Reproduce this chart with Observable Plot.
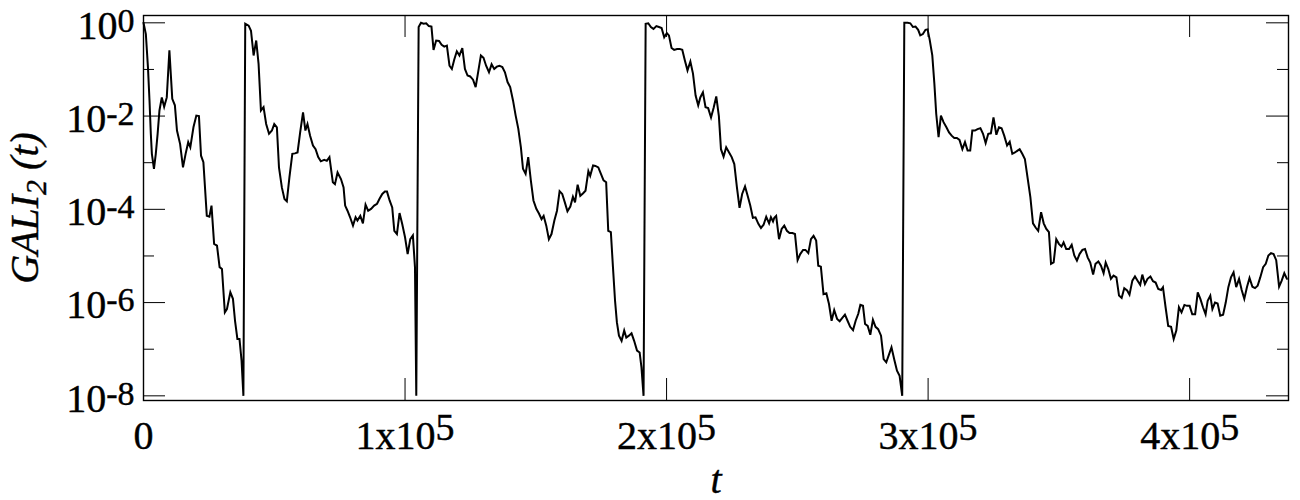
<!DOCTYPE html>
<html>
<head>
<meta charset="utf-8">
<script src="https://cdn.jsdelivr.net/npm/d3@7"></script>
<script src="https://cdn.jsdelivr.net/npm/@observablehq/plot@0.6"></script>
<style>
  html, body { margin: 0; padding: 0; background: #fff; }
  #chart svg { display: block; }
</style>
</head>
<body>
<div id="chart"></div>
<script>
// time t
const tValues = [
  0, 900, 1700, 2300, 2800, 3200, 4000, 4700, 5400, 6100, 7000, 7900, 8900, 9900, 11000, 12000, 12800, 14000, 15100, 16100,
  17100, 17900, 19100, 20200, 21200, 22000, 22900, 24200, 25200, 26000, 27000, 28100, 29100, 30000, 31100, 31900, 33200, 34200, 35000, 35900,
  36700, 37500, 38200,
  38900, 40200, 41100, 42100, 43100, 44000, 44900, 45900, 46900, 48000, 49100, 50000, 51000, 51800, 52900, 53900, 54800, 55800, 56900, 57900,
  58900, 59900, 61000, 61900, 62700, 63700, 64800, 65800, 66800, 67800, 69100, 70100, 71100, 72400, 73200, 74200, 75500, 76500, 77100, 78000,
  79000, 80100, 81100, 81800, 82900, 83900, 84900, 85900, 87000, 88200, 89300, 90200, 91300, 92300, 93100, 94100, 95100, 95900, 96900, 97900,
  98900, 100000, 101000, 102000, 103000, 103800, 104300,
  105200, 106100, 107100, 108100, 109100, 110100, 110900, 111900, 113000, 114000, 115000, 116000, 117000, 117900, 118800, 119800, 120800, 121900,
  122900, 123900, 124900, 126000, 127000, 128000, 129000, 130000, 131000, 132100, 133100, 134100, 135100, 136100, 137200, 138200, 139200, 140200,
  141300, 142300, 143300, 144300, 145100, 146100, 147100, 148100, 149100, 150200, 151200, 152200, 153000, 154000, 155000, 156000, 157100, 158100,
  159100, 160100, 161100, 162100, 163200, 164200, 165000, 166000, 167000, 168000, 169000, 170100, 170800, 171900, 172800, 173900, 174900, 175900,
  176900, 177700, 178700, 179500, 180300, 181000, 181800, 182800, 183800, 184600, 185600, 186600, 187600, 188700, 189700, 190400, 191200,
  192000, 193000, 194000, 195000, 196100, 197100, 198100, 199100, 200100, 200900, 201900, 202900, 204000, 205000, 206000, 207000, 208000, 209100,
  210100, 211100, 212100, 212900, 213900, 214900, 215900, 217000, 218000, 219000, 220000, 220800, 221800, 222800, 223900, 224900, 225900, 226900,
  227900, 228900, 230000, 231000, 232000, 233000, 234000, 235100, 236100, 237100, 238100, 239200, 239900, 240700, 241200, 241900, 243000, 244000,
  245000, 246000, 247000, 248100, 249100, 250100, 251100, 252200, 253100, 254200, 255200, 256200, 257200, 258000, 259000, 260000, 261100, 262100,
  263100, 264100, 265200, 266200, 267200, 268200, 269200, 270200, 271300, 272300, 273300, 274100, 275100, 275900, 276900, 277900, 278900, 279900,
  280900, 282000, 283000, 284000, 285000, 286000, 287100, 288100, 289100, 290100,
  290900, 292200, 293200, 294200, 295200, 296200, 297000, 298000, 299000, 299800, 300600, 301600, 302400, 303100, 304000, 304900, 305900, 307000,
  308000, 309000, 310000, 311000, 312000, 313100, 314100, 315100, 316100, 316900, 317900, 318900, 320000, 321000, 322000, 323000, 324000, 325000,
  326100, 327100, 328100, 329100, 330200, 331200, 332200, 333200, 334200, 335000, 336000, 337000, 338000, 339100, 340100, 341100, 342100, 343200,
  344200, 345200, 346200, 347000, 348000, 349000, 350000, 351000, 351800, 352800, 353900, 354900, 355900, 356900, 357900, 359000, 360000, 361000,
  362000, 363100, 364000, 365100, 366100, 367100, 367900, 368900, 369900, 370900, 372000, 373000, 374000, 375000, 376100, 377000, 378100, 379100,
  380100, 381100, 381900, 382900, 383900, 385000, 386000, 387000, 388000, 389100, 389800, 390800, 391800, 392900, 393900, 394900, 395900, 396900,
  398000, 399000, 400000, 401000, 402100, 403100, 404100, 405100, 406100, 406900, 407900, 408700, 409700, 410700, 411700, 412800, 413800, 414800,
  415800, 416800, 417800, 418900, 419900, 420900, 421900, 422900, 424000, 425000, 426000, 427000, 428100, 429100, 430100, 431100, 432100, 433100,
  434200, 435200, 436200, 437200
];

// log10 of GALI_2(t)
const galiExponent = [
  0, -0.24, -0.95, -1.67, -2.38, -2.81, -3.13, -2.81, -2.38, -1.88, -1.6, -1.8, -1.6, -0.59, -1.63, -1.77, -2.31, -2.6, -3.1, -2.81,
  -2.56, -2.67, -2.24, -1.99, -2.0, -2.85, -2.99, -4.14, -4.16, -3.92, -4.74, -4.78, -5.24, -5.28, -6.21, -6.14, -5.78, -5.92, -6.39, -6.78,
  -6.78, -7.25, -8.0,
  -0.02, -0.06, -0.17, -0.7, -0.38, -0.88, -1.88, -1.81, -2.17, -2.38, -2.31, -2.17, -2.24, -3.1, -3.53, -3.78, -3.83, -3.31, -2.81, -2.8,
  -2.78, -2.35, -1.92, -2.31, -2.17, -2.42, -2.63, -2.71, -2.88, -2.97, -2.94, -2.96, -2.88, -3.42, -3.46, -3.21, -3.35, -3.53, -3.92, -4.03,
  -4.17, -4.35, -4.17, -4.24, -4.14, -4.3, -3.9, -4.03, -3.99, -3.92, -3.88, -3.78, -3.67, -3.62, -3.62, -3.81, -3.96, -4.46, -4.53, -4.08,
  -4.31, -4.6, -4.96, -4.64, -4.56, -5.24, -8.0,
  -0.09, 0, -0.02, -0.01, -0.07, -0.08, -0.58, -0.38, -0.39, -0.47, -0.51, -0.49, -0.92, -0.99, -0.79, -0.61, -0.7, -0.54,
  -0.99, -1.13, -1.15, -1.22, -1.38, -1.04, -0.7, -0.75, -0.92, -1.06, -0.89, -0.99, -0.94, -0.92, -0.95, -1.06, -1.27, -1.38,
  -1.67, -1.99, -2.27, -2.67, -3.13, -3.24, -2.88, -3.38, -3.81, -3.99, -4.09, -4.21, -4.14, -4.35, -4.64, -4.53, -4.24, -4.03,
  -3.61, -3.67, -3.85, -4.04, -3.94, -3.73, -3.85, -3.47, -3.71, -3.66, -3.6, -3.18, -3.28, -3.06, -3.07, -3.1, -3.24, -3.38,
  -3.42, -4.46, -4.49, -5.24, -5.96, -6.42, -6.71, -6.82, -6.6, -6.75, -6.71, -6.66, -6.82, -7.03, -7.07, -7.39, -8.0,
  -0.02, -0.01, -0.09, -0.13, -0.07, -0.09, -0.11, -0.31, -0.22, -0.27, -0.54, -0.58, -0.56, -0.56, -0.58, -0.81, -1.02, -0.83,
  -1.09, -1.56, -1.77, -1.6, -1.49, -1.81, -1.83, -2.03, -1.82, -1.58, -2.0, -2.71, -2.87, -2.67, -2.78, -2.88, -3.03, -3.53,
  -3.97, -3.67, -3.51, -3.71, -3.92, -4.18, -4.17, -4.31, -4.4, -4.33, -4.16, -4.3, -4.17, -4.26, -4.18, -4.14, -4.64, -4.42,
  -4.35, -4.46, -4.51, -4.51, -4.53, -5.09, -4.96, -4.87, -4.87, -4.94, -4.64, -4.57, -4.67, -5.21, -5.23, -5.82, -5.8, -6.03,
  -6.39, -6.16, -6.35, -6.4, -6.33, -6.26, -6.39, -6.52, -6.59, -6.39, -6.24, -6.05, -6.07, -6.46, -6.5, -6.69, -6.37, -6.52,
  -6.57, -6.71, -7.21, -7.28, -7.12, -6.96, -7.23, -7.46, -7.57, -8.0,
  0, 0, -0.01, -0.09, -0.08, -0.15, -0.27, -0.24, -0.15, -0.14, -0.36, -0.7, -1.31, -1.95, -2.45, -1.99, -2.13, -2.24,
  -2.35, -2.42, -2.47, -2.47, -2.51, -2.71, -2.56, -2.74, -2.74, -2.31, -2.31, -2.28, -2.26, -2.38, -2.58, -2.38, -2.37, -2.03,
  -2.4, -2.24, -2.26, -2.42, -2.63, -2.55, -2.81, -2.78, -2.74, -2.71, -2.81, -2.92, -3.31, -3.74, -4.3, -4.39, -4.46, -4.06,
  -4.3, -4.42, -4.49, -5.17, -5.14, -4.64, -4.74, -4.8, -4.71, -4.85, -4.85, -4.76, -4.99, -5.1, -4.96, -4.87, -4.85, -5.03,
  -5.14, -5.4, -5.17, -5.12, -5.21, -5.37, -5.14, -5.28, -5.49, -5.42, -5.46, -5.85, -5.9, -5.69, -5.74, -5.83, -5.53, -5.44,
  -5.53, -5.62, -5.4, -5.6, -5.49, -5.44, -5.54, -5.57, -5.71, -5.73, -5.67, -6.1, -6.5, -6.52, -6.78, -6.6, -6.1, -6.21,
  -6.05, -6.07, -6.07, -6.25, -6.25, -5.78, -5.92, -6.1, -6.25, -5.96, -5.85, -6.14, -6.0, -6.02, -6.28, -6.26, -6.0, -5.67,
  -5.46, -5.35, -5.67, -5.49, -5.73, -5.92, -5.67, -5.47, -5.66, -5.69, -5.64, -5.46, -5.24, -5.17, -4.99, -4.94, -4.96, -5.09,
  -5.66, -5.53, -5.37, -5.49
];

const xTicks = [0, 100000, 200000, 300000, 400000];
const yMajorTicks = [1, 1e-2, 1e-4, 1e-6, 1e-8];
const yMinorTicks = [1e-1, 1e-3, 1e-5, 1e-7];

const data = tValues.map((t, i) => ({t, gali: Math.pow(10, galiExponent[i])}));

const W = 1300, H = 500;
const mL = 143, mR = 12, mT = 15, mB = 100;
const plotW = W - mL - mR, plotH = H - mT - mB;
const major = 22, minor = 11;
const FONT = "'Liberation Serif', 'Times New Roman', serif";

const chart = Plot.plot({
  width: W,
  height: H,
  marginLeft: mL,
  marginRight: mR,
  marginTop: mT,
  marginBottom: mB,
  style: {fontFamily: FONT, fontSize: "40px", background: "#fff", color: "#000", overflow: "visible"},
  x: {domain: [0, 437800]},
  y: {type: "log", domain: [Math.pow(10, -8.1), Math.pow(10, 0.157)]},
  marks: [
    // inward ticks: left/right on y, bottom/top on x
    Plot.tickY(yMajorTicks, {y: d => d, insetRight: plotW - major, stroke: "#000", strokeWidth: 1}),
    Plot.tickY(yMajorTicks, {y: d => d, insetLeft: plotW - major, stroke: "#000", strokeWidth: 1}),
    Plot.tickY(yMinorTicks, {y: d => d, insetRight: plotW - minor, stroke: "#000", strokeWidth: 1}),
    Plot.tickY(yMinorTicks, {y: d => d, insetLeft: plotW - minor, stroke: "#000", strokeWidth: 1}),
    Plot.tickX(xTicks, {x: d => d, insetTop: plotH - major, stroke: "#000", strokeWidth: 1}),
    Plot.tickX(xTicks, {x: d => d, insetBottom: plotH - major, stroke: "#000", strokeWidth: 1}),
    Plot.line(data, {x: "t", y: "gali", stroke: "#000", strokeWidth: 2, strokeLinejoin: "miter", strokeMiterlimit: 4}),
    Plot.frame({stroke: "#000", strokeWidth: 1.4}),
    Plot.axisY(yMajorTicks, {
      anchor: "left", tickSize: 0, tickPadding: 9, label: null, fontSize: 40, dy: 3,
      tickFormat: d => "10^" + Math.round(Math.log10(d))
    }),
    Plot.axisX(xTicks, {
      anchor: "bottom", tickSize: 0, tickPadding: 20, label: null, fontSize: 40,
      tickFormat: d => d === 0 ? "0" : (d / 1e5) + "x10^5"
    }),
    Plot.text(["GALI_2 (t)"], {frameAnchor: "left", lineAnchor: "middle", rotate: -90, dx: -118, fontSize: 40, fontStyle: "italic", textAnchor: "middle"}),
    Plot.text(["t"], {frameAnchor: "bottom", lineAnchor: "middle", dy: 80, fontSize: 40, fontStyle: "italic", textAnchor: "middle"})
  ]
});

// superscripts in tick labels, subscript in the y title
const NS = "http://www.w3.org/2000/svg";
chart.querySelectorAll("text").forEach(el => {
  const s = el.textContent;
  el.style.stroke = "#000";
  el.style.strokeWidth = "0.4";
  if (s.includes("^")) {
    const [base, exp] = s.split("^");
    const isY = base === "10";
    el.textContent = base;
    const sup = document.createElementNS(NS, "tspan");
    sup.setAttribute("dy", isY ? "-7" : "-9");
    sup.setAttribute("font-size", isY ? "34" : "38");
    sup.textContent = exp;
    el.appendChild(sup);
  } else if (s === "GALI_2 (t)") {
    el.textContent = "";
    const parts = [
      {txt: "GALI", dy: null, size: null},
      {txt: "2", dy: "8", size: "30"},
      {txt: "\u00a0(t)", dy: "-8", size: null}
    ];
    parts.forEach(p => {
      const ts = document.createElementNS(NS, "tspan");
      if (p.dy) ts.setAttribute("dy", p.dy);
      if (p.size) ts.setAttribute("font-size", p.size);
      ts.textContent = p.txt;
      el.appendChild(ts);
    });
  }
});

document.getElementById("chart").appendChild(chart);
</script>
</body>
</html>
